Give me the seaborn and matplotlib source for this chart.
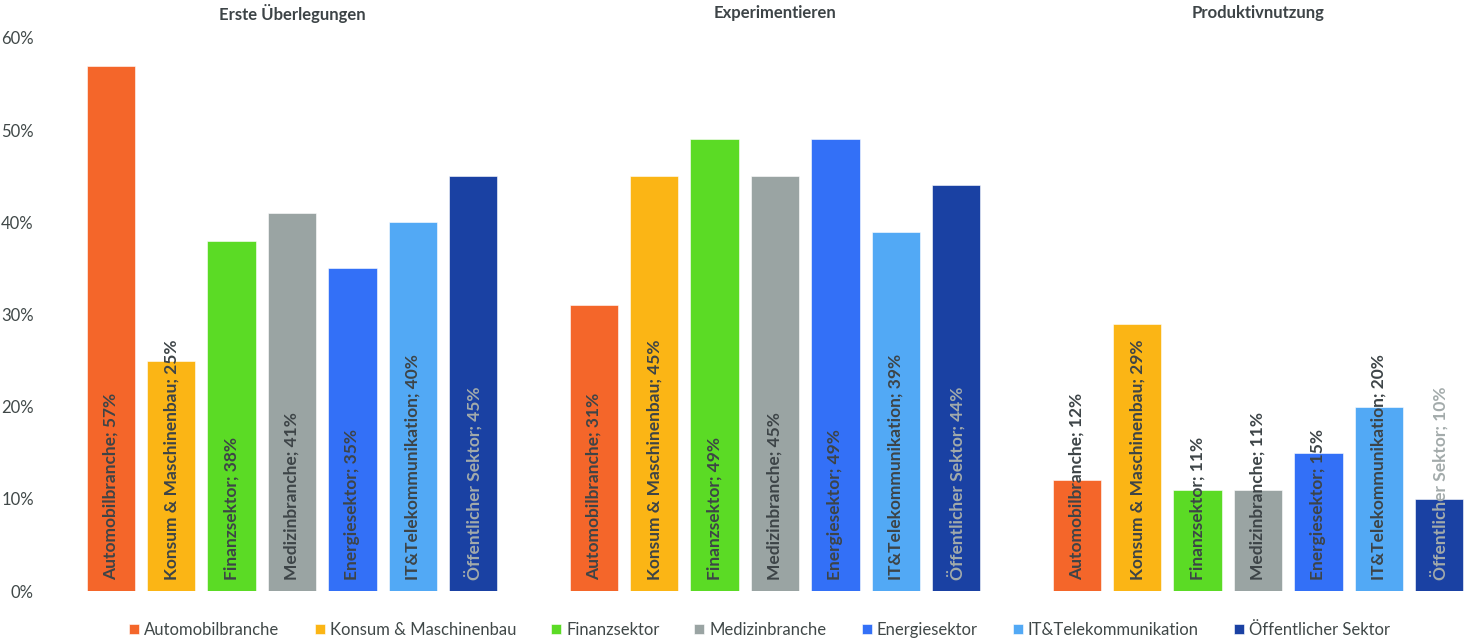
import matplotlib
matplotlib.use("Agg")
import matplotlib.pyplot as plt
import seaborn as sns
import pandas as pd

phases = ["Erste Überlegungen", "Experimentieren", "Produktivnutzung"]
branchen = ["Automobilbranche", "Konsum & Maschinenbau", "Finanzsektor",
            "Medizinbranche", "Energiesektor", "IT&Telekommunikation",
            "Öffentlicher Sektor"]
erste = [57, 25, 38, 41, 35, 40, 45]
experimentieren = [31, 45, 49, 45, 49, 39, 44]
produktiv = [12, 29, 11, 11, 15, 20, 10]
colors = ["#F4662A", "#FBB515", "#5BDB25", "#9AA4A3", "#3370F7", "#52A9F5", "#1A41A3"]
label_colors = ["#3D4447"] * 6 + ["#A3ABAB"]

rows = []
for phase, vals in zip(phases, [erste, experimentieren, produktiv]):
    for b, v in zip(branchen, vals):
        rows.append({"Phase": phase, "Branche": b, "Wert": v / 100})
df = pd.DataFrame(rows)

sns.set_theme(style="white")
plt.rcParams["font.family"] = ["Lato", "DejaVu Sans"]

fig = plt.figure(figsize=(14.67, 6.42), dpi=100)
ax = fig.add_axes([70 / 1467, 51 / 642, 1 - 70 / 1467, (604 - 51) / 642])

sns.barplot(data=df, x="Phase", y="Wert", hue="Branche", order=phases,
            hue_order=branchen, palette=dict(zip(branchen, colors)),
            width=0.875, gap=0.2, saturation=1, ax=ax, errorbar=None,
            edgecolor="white", linewidth=0.4)

ax.set_xlim((70 - 292) / 483, (1467 - 292) / 483)
ax.set_ylim(0, 0.6)
ax.set_yticks([0, 0.1, 0.2, 0.3, 0.4, 0.5, 0.6])
ax.set_yticklabels([f"{int(round(t*100))}%" for t in ax.get_yticks()])
ax.tick_params(axis="y", length=0, labelsize=12, labelcolor="#404848", pad=26)
ax.set_xticks([])
ax.set_xlabel("")
ax.set_ylabel("")
for s in ax.spines.values():
    s.set_visible(False)
ax.grid(False)

all_vals = [erste, experimentieren, produktiv]
for hi, cont in enumerate(ax.containers):
    for pi, bar in enumerate(cont):
        v = all_vals[pi][hi]
        ax.text(bar.get_x() + bar.get_width() / 2, 0.012,
                f"{branchen[hi]}; {v}%", rotation=90, ha="center", va="bottom",
                fontsize=12.5, fontweight="bold", color=label_colors[hi])

for i, p in enumerate(phases):
    ax.text(i, 0.6 + 25 / 92.2 * 0.1, p, ha="center", va="center",
            fontsize=12, fontweight="bold", color="#3D4447", clip_on=False)

handles, labels = ax.get_legend_handles_labels()
ax.legend(handles, labels, ncol=7, loc="center",
          bbox_to_anchor=(0.5 + (128 + 1390) / 2 / 1467 - 0.5 - (70 / 1467) / 2, -0.07),
          frameon=False, fontsize=12, handlelength=0.6, handleheight=0.6,
          handletextpad=0.3, columnspacing=2.1, labelcolor="#404848")

fig.savefig("out.png", dpi=100)
